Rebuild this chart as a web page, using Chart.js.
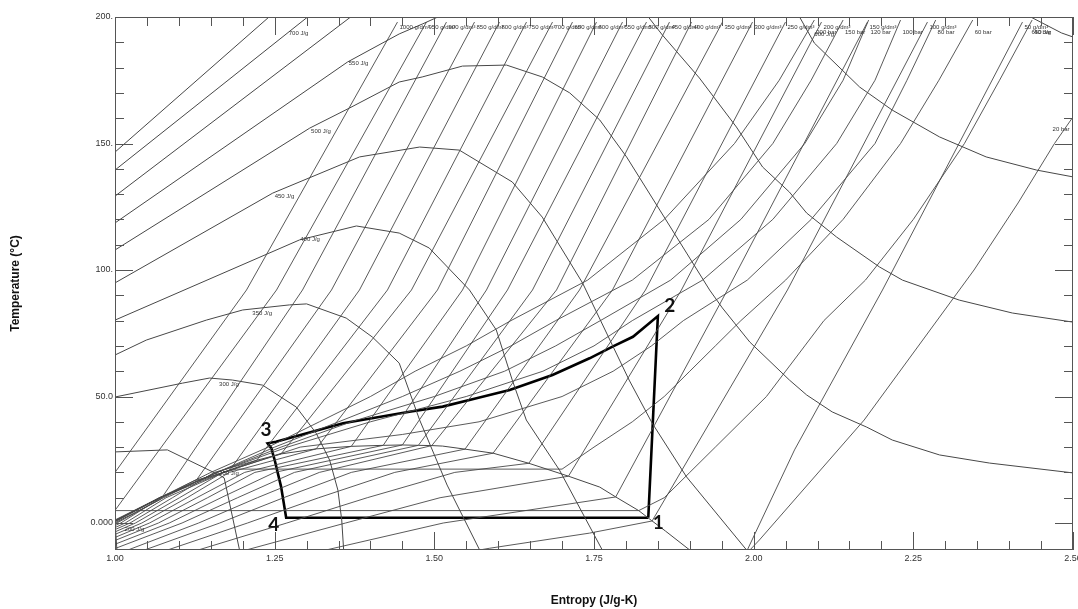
<!DOCTYPE html>
<html><head><meta charset="utf-8">
<script src="https://cdn.jsdelivr.net/npm/chart.js@4.4.1/dist/chart.umd.min.js"></script>
<style>
html,body{margin:0;padding:0;background:#fff;overflow:hidden}
#box{width:1078px;height:609px;position:relative}
</style></head><body>
<div id="box"><canvas id="cv" width="1078" height="609"></canvas></div>
<script>
// ---------- axis data ----------
const sTicks = [1.00, 1.25, 1.50, 1.75, 2.00, 2.25, 2.50];
const sTickLabels = ['1.00', '1.25', '1.50', '1.75', '2.00', '2.25', '2.50'];
const tTicks = [0, 50, 100, 150, 200];
const tTickLabels = ['0.000', '50.0', '100.', '150.', '200.'];

// ---------- refrigeration cycle (s, T) ----------
const cycleS = [1.835, 1.850, 1.811, 1.779, 1.743, 1.685, 1.618, 1.566, 1.513, 1.461, 1.357, 1.252, 1.239, 1.245, 1.247, 1.250, 1.260, 1.268, 1.835];
const cycleT = [2.1, 81.8, 73.6, 69.7, 65.1, 58.5, 52.6, 49.3, 46.0, 44.0, 39.4, 32.1, 31.5, 29.5, 27.5, 24.9, 14.4, 2.1, 2.1];
const cycleNames = ['1', '2', '3', '4'];
const cycleNameS = [1.842, 1.860, 1.228, 1.240];
const cycleNameT = [-2.5, 83.5, 34.5, -3.0];

// ---------- isenthalps (s, T) ----------
const enthalpyLines = [
  [[1.0, 146.6], [1.275, 207.5]],
  [[1.0, 139.5], [1.339, 207.5], [2.2, 230], [2.430, 200.5], [2.482, 193.7], [2.5, 192.1]],
  [[1.0, 129.2], [1.408, 207.5], [1.8, 230], [2.071, 200.4], [2.095, 189.7], [2.166, 172.3], [2.217, 163.2], [2.291, 152.6], [2.364, 144.7], [2.443, 139.5], [2.5, 136.8]],
  [[1.0, 118.6], [1.364, 182.2], [1.445, 193.3], [1.481, 197.2], [1.516, 201.2], [1.67, 208], [1.832, 201.0], [1.857, 192.9], [1.915, 175.9], [1.973, 156.5], [2.014, 140.7], [2.056, 130.8], [2.083, 122.5], [2.130, 113.0], [2.197, 101.2], [2.233, 96.0], [2.322, 88.1], [2.405, 83.0], [2.5, 79.4]],
  [[1.0, 107.9], [1.305, 156.1], [1.367, 164.0], [1.445, 174.3], [1.481, 176.3], [1.544, 180.6], [1.613, 181.0], [1.669, 176.3], [1.712, 170.0], [1.759, 159.3], [1.801, 144.7], [1.853, 123.7], [1.895, 106.7], [1.931, 92.1], [1.951, 85.0], [1.994, 71.5], [2.056, 56.5], [2.083, 50.6], [2.123, 43.9], [2.177, 37.9], [2.217, 32.8], [2.291, 26.9], [2.369, 23.7], [2.5, 19.8]],
  [[1.0, 94.9], [1.247, 130.4], [1.383, 144.7], [1.477, 148.6], [1.539, 147.4], [1.622, 134.8], [1.669, 120.9], [1.732, 94.9], [1.805, 56.5], [1.841, 39.5], [1.895, 18.2], [1.989, -10.7]],
  [[1.0, 80.2], [1.289, 111.9], [1.378, 117.4], [1.445, 114.6], [1.492, 108.7], [1.555, 92.1], [1.597, 76.3], [1.622, 56.5], [1.644, 40.7], [1.696, 20.9], [1.763, -10.7]],
  [[1.0, 66.4], [1.049, 72.3], [1.143, 80.2], [1.2, 84.2], [1.273, 86.2], [1.3, 86.6], [1.362, 81.0], [1.403, 73.5], [1.445, 63.2], [1.477, 40.7], [1.52, 15], [1.571, -10.7]],
  [[1.0, 49.8], [1.106, 55.3], [1.148, 57.3], [1.184, 56.5], [1.231, 54.5], [1.284, 45.8], [1.315, 35.5], [1.336, 24.9], [1.349, 13.0], [1.355, 1.2], [1.358, -10.7]],
  [[1.0, 28.1], [1.082, 28.9], [1.166, 18.6], [1.171, 17.8], [1.195, -10.7]],
  [[1.0, 0.5], [1.003, -10.7]]
];
const enthalpyNames = ['700 J/g', '550 J/g', '500 J/g', '450 J/g', '400 J/g', '350 J/g', '300 J/g', '250 J/g', '200 J/g', '600 J/g', '650 J/g'];
const enthalpyNameS = [1.272, 1.366, 1.307, 1.250, 1.290, 1.215, 1.163, 1.163, 1.015, 2.095, 2.435];
const enthalpyNameT = [193.5, 181.5, 155.0, 129.0, 112.0, 83.0, 55.0, 19.5, -2.5, 193.0, 194.0];

// ---------- isochores (s, T), top end first ----------
const densityNames = ['1000 g/dm³', '950 g/dm³', '900 g/dm³', '850 g/dm³', '800 g/dm³', '750 g/dm³', '700 g/dm³', '650 g/dm³', '600 g/dm³', '550 g/dm³', '500 g/dm³', '450 g/dm³', '400 g/dm³', '350 g/dm³', '300 g/dm³', '250 g/dm³', '200 g/dm³', '150 g/dm³', '100 g/dm³', '50 g/dm³'];
const densityLines = [
  [[1.4423, 198], [1.2059, 92.1], [1.0, 20.0]],
  [[1.4877, 198], [1.2529, 92.1], [1.0, 5.0]],
  [[1.5190, 198], [1.2936, 92.1], [1.072, 9.5], [1.003, 0], [1.0, -0.3]],
  [[1.5629, 198], [1.3390, 92.1], [1.125, 16.1], [1.072, 10], [1.009, 0], [1.0, -1.0]],
  [[1.6020, 198], [1.3828, 92.1], [1.180, 21.0], [1.080, 10], [1.016, 0], [1.0, -1.8]],
  [[1.6443, 198], [1.4266, 92.1], [1.222, 24.8], [1.1555, 20], [1.090, 10], [1.0235, 0], [1.0, -2.6]],
  [[1.6850, 198], [1.4642, 92.1], [1.260, 27.3], [1.169, 20], [1.101, 10], [1.032, 0], [1.0, -3.5]],
  [[1.7163, 198], [1.5049, 92.1], [1.315, 29.3], [1.179, 20], [1.113, 10], [1.042, 0], [1.0, -4.5]],
  [[1.7539, 198], [1.5441, 92.1], [1.370, 30.3], [1.203, 20], [1.128, 10], [1.054, 0], [1.0, -5.7]],
  [[1.7946, 198], [1.5816, 92.1], [1.420, 30.7], [1.219, 20], [1.145, 10], [1.068, 0], [1.0, -6.9]],
  [[1.8322, 198], [1.6145, 92.1], [1.450, 30.85], [1.250, 20], [1.166, 10], [1.085, 0], [1.0, -8.4]],
  [[1.8682, 198], [1.6537, 92.1], [1.475, 30.7], [1.281, 20], [1.192, 10], [1.105, 0], [1.001, -10], [1.0, -10.2]],
  [[1.9027, 198], [1.6913, 92.1], [1.496, 30.6], [1.320, 20], [1.223, 10], [1.131, 0], [1.020, -10.7]],
  [[1.9512, 198], [1.7273, 92.1], [1.548, 29.2], [1.370, 20], [1.264, 10], [1.164, 0], [1.046, -10.7]],
  [[1.9982, 198], [1.7789, 92.1], [1.592, 27.6], [1.438, 20], [1.319, 10], [1.2075, 0], [1.082, -10.7]],
  [[2.0498, 198], [1.8306, 92.1], [1.648, 23.6], [1.532, 20], [1.395, 10], [1.269, 0], [1.130, -10.7]],
  [[2.1062, 198], [1.8869, 92.1], [1.710, 18.5], [1.509, 10], [1.361, 0], [1.205, -10.7]],
  [[2.1782, 198], [1.9589, 92.1], [1.784, 10.3], [1.514, 0], [1.330, -10.7]],
  [[2.2721, 198], [2.0529, 92.1], [1.841, 0.8], [1.743, -4.0], [1.586, -10], [1.570, -10.7]],
  [[2.4209, 198], [2.2017, 92.1], [2.064, 28.9], [1.990, -10.7]]
];

// ---------- isobars (s, T) ----------
const pressureNames = ['200 bar', '150 bar', '120 bar', '100 bar', '80 bar', '60 bar', '40 bar', '20 bar'];
const pressureLines = [
  [[1.0, 1.2], [1.07, 10], [1.15, 20], [1.24, 30], [1.32, 40], [1.40, 50], [1.47, 60], [1.55, 70], [1.62, 80], [1.74, 96], [1.86, 120], [1.97, 150], [2.04, 175], [2.095, 198.8]],
  [[1.0, 1.0], [1.07, 10], [1.16, 20], [1.25, 30], [1.35, 40], [1.45, 50], [1.54, 60], [1.62, 70], [1.69, 80], [1.81, 96], [1.93, 120], [2.03, 150], [2.09, 175], [2.14, 198.8]],
  [[1.0, 0.8], [1.07, 10], [1.16, 20], [1.26, 30], [1.37, 40], [1.50, 50], [1.61, 60], [1.69, 70], [1.76, 80], [1.87, 96], [1.98, 120], [2.08, 150], [2.14, 175], [2.18, 198.8]],
  [[1.0, 0.6], [1.07, 10], [1.16, 20], [1.27, 30], [1.40, 40], [1.55, 50], [1.67, 60], [1.75, 70], [1.81, 80], [1.92, 96], [2.03, 120], [2.13, 150], [2.19, 175], [2.23, 198.8]],
  [[1.0, 0.4], [1.07, 10], [1.17, 20], [1.29, 30], [1.45, 35], [1.57, 40], [1.70, 50], [1.78, 60], [1.84, 70], [1.89, 80], [1.99, 96], [2.09, 120], [2.19, 150], [2.24, 175], [2.285, 198.8]],
  [[1.0, 0.9], [1.072, 10], [1.125, 16.8], [1.19, 21.3], [1.70, 21.3], [1.75, 30], [1.81, 40], [1.86, 50], [1.90, 60], [1.94, 70], [1.98, 80], [2.05, 96], [2.14, 120], [2.23, 150], [2.29, 175], [2.343, 198.8]],
  [[1.0, 4.9], [1.82, 4.9], [1.86, 10], [1.90, 20], [1.94, 30], [1.98, 40], [2.02, 50], [2.05, 60], [2.08, 70], [2.11, 80], [2.175, 96], [2.25, 120], [2.33, 150], [2.385, 175], [2.436, 198.8]],
  [[1.994, -10.7], [2.009, -6.7], [2.173, 40.7], [2.345, 100], [2.414, 126.5], [2.471, 150], [2.5, 160.5]]
];
const pressureNameS = [2.098, 2.143, 2.183, 2.233, 2.288, 2.346, 2.439, 2.468];
const pressureNameT = [194, 194, 194, 194, 194, 194, 194, 155.5];

// ---------- saturation dome ----------
const satLine = [[1.0, 0], [1.072, 9.5], [1.125, 16.1], [1.18, 21], [1.222, 24.8], [1.26, 27.3], [1.315, 29.3], [1.37, 30.3], [1.42, 30.7], [1.45, 30.85], [1.475, 30.7], [1.496, 30.6], [1.513, 30.4], [1.548, 29.2], [1.592, 27.6], [1.648, 23.6], [1.71, 18.5], [1.759, 14.2], [1.784, 10.3], [1.82, 4.9], [1.84, 1.0], [1.862, -3.2], [1.9, -10.7]];

const thin = '#474747';
function ds(points, color, width) {
  return { data: points.map(p => ({ x: p[0], y: p[1] })), showLine: true, borderColor: color, borderWidth: width, pointRadius: 0, tension: 0, fill: false };
}
const datasets = [];
enthalpyLines.forEach(a => datasets.push(ds(a, thin, 1)));
densityLines.forEach(a => datasets.push(ds(a, thin, 0.9)));
pressureLines.forEach(a => datasets.push(ds(a, thin, 0.9)));
datasets.push(ds(satLine, thin, 1));
datasets.push(ds(cycleS.map((s, i) => [s, cycleT[i]]), '#000', 2.6));

const decor = {
  id: 'decor',
  afterDraw(chart) {
    const { ctx, chartArea: a, scales: { x, y } } = chart;
    ctx.save();
    ctx.strokeStyle = '#555';
    ctx.lineWidth = 1;
    ctx.strokeRect(a.left + 0.5, a.top + 0.5, a.right - a.left - 1, a.bottom - a.top - 1);
    ctx.beginPath();
    for (let k = 0; k <= 30; k++) {
      const v = 1 + k * 0.05;
      const px = Math.round(x.getPixelForValue(v)) + 0.5;
      const L = (k % 5 === 0) ? 18 : 9;
      ctx.moveTo(px, a.bottom); ctx.lineTo(px, a.bottom - L);
      ctx.moveTo(px, a.top); ctx.lineTo(px, a.top + L);
    }
    for (let k = 0; k <= 20; k++) {
      const v = k * 10;
      const py = Math.round(y.getPixelForValue(v)) + 0.5;
      const L = (k % 5 === 0) ? 18 : 9;
      ctx.moveTo(a.left, py); ctx.lineTo(a.left + L, py);
      ctx.moveTo(a.right, py); ctx.lineTo(a.right - L, py);
    }
    ctx.stroke();
    // curve labels
    ctx.fillStyle = '#333';
    ctx.font = '6px "Liberation Sans", Arial, sans-serif';
    ctx.textBaseline = 'middle';
    enthalpyNames.forEach((t, i) => {
      ctx.fillText(t, x.getPixelForValue(enthalpyNameS[i]), y.getPixelForValue(enthalpyNameT[i]));
    });
    densityNames.forEach((t, i) => {
      const top = densityLines[i][0];
      ctx.fillText(t, x.getPixelForValue(top[0]) + 2, y.getPixelForValue(196));
    });
    pressureNames.forEach((t, i) => {
      ctx.fillText(t, x.getPixelForValue(pressureNameS[i]), y.getPixelForValue(pressureNameT[i]));
    });
    // cycle state numbers
    ctx.fillStyle = '#111';
    ctx.font = 'bold 19px Lato, "Liberation Sans", sans-serif';
    ctx.textBaseline = 'alphabetic';
    cycleNames.forEach((t, i) => {
      ctx.fillText(t, x.getPixelForValue(cycleNameS[i]), y.getPixelForValue(cycleNameT[i]));
    });
    ctx.restore();
  }
};

new Chart(document.getElementById('cv'), {
  type: 'scatter',
  data: { datasets },
  plugins: [decor],
  options: {
    responsive: false,
    animation: false,
    devicePixelRatio: 1,
    layout: { padding: { top: 17, right: 5, left: 0, bottom: 0 } },
    plugins: { legend: { display: false }, tooltip: { enabled: false } },
    scales: {
      x: {
        type: 'linear', min: 1.0, max: 2.5,
        grid: { display: false, drawTicks: false }, border: { display: false },
        ticks: { color: '#333', font: { size: 9, family: '"Liberation Sans", Arial, sans-serif' }, padding: 3, maxRotation: 0, autoSkip: false,
          callback: (v) => { const i = sTicks.findIndex(t => Math.abs(t - v) < 1e-9); return i >= 0 ? sTickLabels[i] : ''; } },
        afterBuildTicks: (s) => { s.ticks = sTicks.map(v => ({ value: v })); },
        afterFit: (s) => { s.height = 59; s.paddingLeft = 0; s.paddingRight = 0; },
        title: { display: true, text: 'Entropy (J/g-K)', color: '#111', font: { size: 12, weight: 'bold', family: '"Liberation Sans", Arial, sans-serif' }, padding: { top: 0, bottom: 1 } }
      },
      y: {
        type: 'linear', min: -10.67, max: 200,
        grid: { display: false, drawTicks: false }, border: { display: false },
        ticks: { color: '#333', font: { size: 9, family: '"Liberation Sans", Arial, sans-serif' }, padding: 2, autoSkip: false,
          callback: (v) => { const i = tTicks.findIndex(t => Math.abs(t - v) < 1e-9); return i >= 0 ? tTickLabels[i] : ''; } },
        afterBuildTicks: (s) => { s.ticks = tTicks.map(v => ({ value: v })); },
        afterFit: (s) => { s.width = 115; s.paddingTop = 0; s.paddingBottom = 0; },
        title: { display: true, text: 'Temperature (°C)', color: '#111', font: { size: 12, weight: 'bold', family: '"Liberation Sans", Arial, sans-serif' }, padding: { top: 8, bottom: 0 } }
      }
    }
  }
});
</script></body></html>
